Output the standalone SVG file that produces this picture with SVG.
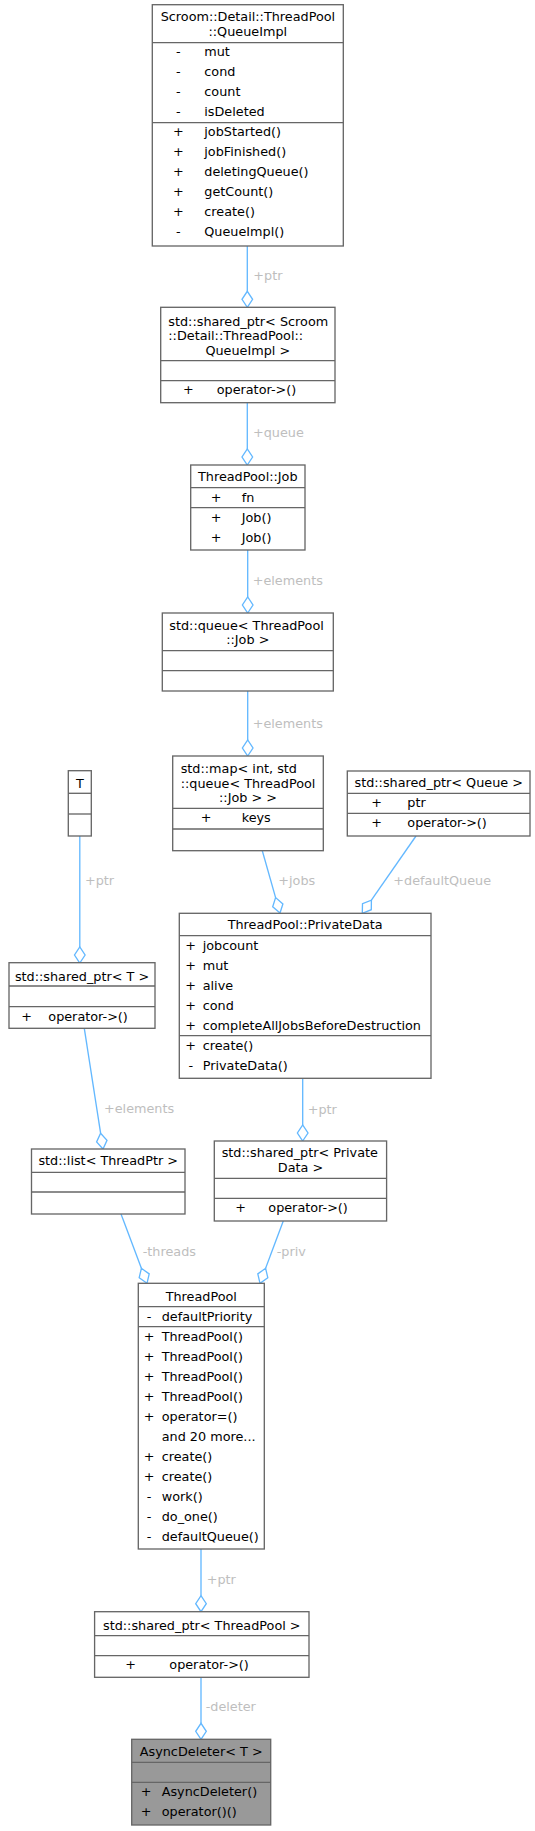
<svg xmlns="http://www.w3.org/2000/svg" width="535" height="1831" viewBox="0 0 535 1831">
<style>
text{font-family:"DejaVu Sans","Liberation Sans",sans-serif;font-size:12.8px;fill:#000}
.m{text-anchor:middle}
.box{fill:#fff;stroke:#666;stroke-width:1.33}
.sep{stroke:#666;stroke-width:1.33}
.gray{fill:#999;stroke:#666;stroke-width:1.33}
.e{stroke:#63b8ff;stroke-width:1.33;fill:none}
.d{stroke:#63b8ff;stroke-width:1.33;fill:#fff}
.lbl{fill:#bebebe}
</style>
<rect width="535" height="1831" fill="#fff"/>

<g id="edges">
<line class="e" x1="247.3" y1="246" x2="247.3" y2="291.3"/>
<polygon class="d" points="247.3,307.3 252.6,299.3 247.3,291.3 242,299.3"/>
<text class="lbl" x="253.3" y="280">+ptr</text>

<line class="e" x1="247.3" y1="402.7" x2="247.3" y2="449"/>
<polygon class="d" points="247.3,465 252.6,457 247.3,449 242,457"/>
<text class="lbl" x="253" y="437">+queue</text>

<line class="e" x1="247.7" y1="550" x2="247.7" y2="597"/>
<polygon class="d" points="247.7,613 253,605 247.7,597 242.4,605"/>
<text class="lbl" x="252.7" y="585">+elements</text>

<line class="e" x1="247.7" y1="691" x2="247.7" y2="740"/>
<polygon class="d" points="247.7,756 253,748 247.7,740 242.4,748"/>
<text class="lbl" x="252.7" y="728">+elements</text>

<line class="e" x1="262.3" y1="850.7" x2="275.6" y2="897.6"/>
<polygon class="d" points="280,913 272.7,906.7 275.6,897.6 282.9,903.9"/>
<text class="lbl" x="278.3" y="885">+jobs</text>

<line class="e" x1="416" y1="836" x2="371.4" y2="900.2"/>
<polygon class="d" points="362.3,913.3 362.5,903.7 371.4,900.2 371.3,909.7"/>
<text class="lbl" x="393.3" y="885">+defaultQueue</text>

<line class="e" x1="79.8" y1="836" x2="79.8" y2="947"/>
<polygon class="d" points="79.8,963 85.1,955 79.8,947 74.5,955"/>
<text class="lbl" x="85" y="885">+ptr</text>

<line class="e" x1="302.7" y1="1078.3" x2="302.7" y2="1125"/>
<polygon class="d" points="302.7,1141 308,1133 302.7,1125 297.4,1133"/>
<text class="lbl" x="307.7" y="1113.5">+ptr</text>

<line class="e" x1="84.3" y1="1028.3" x2="100.6" y2="1133.2"/>
<polygon class="d" points="103,1149 96.6,1141.9 100.6,1133.2 107,1140.3"/>
<text class="lbl" x="104" y="1113">+elements</text>

<line class="e" x1="121" y1="1214" x2="141.4" y2="1268.3"/>
<polygon class="d" points="147,1283.3 139.2,1277.7 141.4,1268.3 149.2,1273.9"/>
<text class="lbl" x="142.7" y="1256">-threads</text>

<line class="e" x1="283.3" y1="1221" x2="265.6" y2="1268.3"/>
<polygon class="d" points="260,1283.3 257.8,1273.9 265.6,1268.3 267.8,1277.7"/>
<text class="lbl" x="276.7" y="1256">-priv</text>

<line class="e" x1="201" y1="1549" x2="201" y2="1595.7"/>
<polygon class="d" points="201,1611.7 206.3,1603.7 201,1595.7 195.7,1603.7"/>
<text class="lbl" x="206.7" y="1584">+ptr</text>

<line class="e" x1="201" y1="1677.3" x2="201" y2="1723.3"/>
<polygon class="d" points="201,1739.3 206.3,1731.3 201,1723.3 195.7,1731.3"/>
<text class="lbl" x="205.7" y="1711">-deleter</text>
</g>

<g id="QueueImpl">
<rect class="box" x="152.3" y="4.7" width="191" height="241.3"/>
<text x="160.7" y="21">Scroom::Detail::ThreadPool</text>
<text class="m" x="247.8" y="36">::QueueImpl</text>
<line class="sep" x1="152.3" y1="42.7" x2="343.3" y2="42.7"/>
<text class="m" x="178.3" y="56">-</text><text x="204.3" y="56">mut</text>
<text class="m" x="178.3" y="76">-</text><text x="204.3" y="76">cond</text>
<text class="m" x="178.3" y="96">-</text><text x="204.3" y="96">count</text>
<text class="m" x="178.3" y="116">-</text><text x="204.3" y="116">isDeleted</text>
<line class="sep" x1="152.3" y1="122.7" x2="343.3" y2="122.7"/>
<text class="m" x="178.3" y="136">+</text><text x="204.3" y="136">jobStarted()</text>
<text class="m" x="178.3" y="156">+</text><text x="204.3" y="156">jobFinished()</text>
<text class="m" x="178.3" y="176">+</text><text x="204.3" y="176">deletingQueue()</text>
<text class="m" x="178.3" y="196">+</text><text x="204.3" y="196">getCount()</text>
<text class="m" x="178.3" y="216">+</text><text x="204.3" y="216">create()</text>
<text class="m" x="178.3" y="236">-</text><text x="204.3" y="236">QueueImpl()</text>
</g>

<g id="SharedPtrQueueImpl">
<rect class="box" x="160.7" y="307.3" width="174.3" height="95.4"/>
<text x="168.3" y="325.5">std::shared_ptr&lt; Scroom</text>
<text x="168.3" y="340">::Detail::ThreadPool::</text>
<text class="m" x="247.8" y="354.5">QueueImpl &gt;</text>
<line class="sep" x1="160.7" y1="360.7" x2="335" y2="360.7"/>
<line class="sep" x1="160.7" y1="380.7" x2="335" y2="380.7"/>
<text class="m" x="188.3" y="394">+</text><text x="216.7" y="394">operator-&gt;()</text>
</g>

<g id="Job">
<rect class="box" x="190.7" y="465" width="114.3" height="85"/>
<text class="m" x="247.8" y="481">ThreadPool::Job</text>
<line class="sep" x1="190.7" y1="487.7" x2="305" y2="487.7"/>
<text class="m" x="216" y="501.5">+</text><text x="241.7" y="501.5">fn</text>
<line class="sep" x1="190.7" y1="507.7" x2="305" y2="507.7"/>
<text class="m" x="216" y="521.5">+</text><text x="241.7" y="521.5">Job()</text>
<text class="m" x="216" y="541.5">+</text><text x="241.7" y="541.5">Job()</text>
</g>

<g id="QueueJob">
<rect class="box" x="162.3" y="613" width="171" height="78"/>
<text x="169.3" y="629.5">std::queue&lt; ThreadPool</text>
<text class="m" x="247.8" y="644">::Job &gt;</text>
<line class="sep" x1="162.3" y1="650.7" x2="333.3" y2="650.7"/>
<line class="sep" x1="162.3" y1="670.7" x2="333.3" y2="670.7"/>
</g>

<g id="MapJobs">
<rect class="box" x="172.7" y="756" width="150.6" height="94.7"/>
<text x="180.7" y="773">std::map&lt; int, std</text>
<text x="180.7" y="787.5">::queue&lt; ThreadPool</text>
<text class="m" x="248" y="802">::Job &gt; &gt;</text>
<line class="sep" x1="172.7" y1="808.3" x2="323.3" y2="808.3"/>
<text class="m" x="206" y="822">+</text><text x="241.7" y="822">keys</text>
<line class="sep" x1="172.7" y1="829" x2="323.3" y2="829"/>
</g>

<g id="SharedPtrQueue">
<rect class="box" x="347.3" y="771" width="182.7" height="65"/>
<text class="m" x="438.7" y="787">std::shared_ptr&lt; Queue &gt;</text>
<line class="sep" x1="347.3" y1="793.3" x2="530" y2="793.3"/>
<text class="m" x="376.7" y="807">+</text><text x="407.3" y="807">ptr</text>
<line class="sep" x1="347.3" y1="813.3" x2="530" y2="813.3"/>
<text class="m" x="376.7" y="827">+</text><text x="407.3" y="827">operator-&gt;()</text>
</g>

<g id="T">
<rect class="box" x="68.3" y="770.7" width="23" height="65.3"/>
<text class="m" x="79.8" y="787.5">T</text>
<line class="sep" x1="68.3" y1="793.3" x2="91.3" y2="793.3"/>
<line class="sep" x1="68.3" y1="814" x2="91.3" y2="814"/>
</g>

<g id="PrivateData">
<rect class="box" x="179.3" y="913.3" width="251.7" height="165"/>
<text class="m" x="305.2" y="929">ThreadPool::PrivateData</text>
<line class="sep" x1="179.3" y1="935.7" x2="431" y2="935.7"/>
<text class="m" x="190.7" y="949.5">+</text><text x="202.7" y="949.5">jobcount</text>
<text class="m" x="190.7" y="969.5">+</text><text x="202.7" y="969.5">mut</text>
<text class="m" x="190.7" y="989.5">+</text><text x="202.7" y="989.5">alive</text>
<text class="m" x="190.7" y="1009.5">+</text><text x="202.7" y="1009.5">cond</text>
<text class="m" x="190.7" y="1029.5">+</text><text x="202.7" y="1029.5">completeAllJobsBeforeDestruction</text>
<line class="sep" x1="179.3" y1="1035.7" x2="431" y2="1035.7"/>
<text class="m" x="190.7" y="1049.5">+</text><text x="202.7" y="1049.5">create()</text>
<text class="m" x="190.7" y="1069.5">-</text><text x="202.7" y="1069.5">PrivateData()</text>
</g>

<g id="SharedPtrT">
<rect class="box" x="9" y="962.7" width="146" height="65.6"/>
<text class="m" x="82" y="980.5">std::shared_ptr&lt; T &gt;</text>
<line class="sep" x1="9" y1="986" x2="155" y2="986"/>
<line class="sep" x1="9" y1="1006.7" x2="155" y2="1006.7"/>
<text class="m" x="26.7" y="1020.5">+</text><text x="48.3" y="1020.5">operator-&gt;()</text>
</g>

<g id="SharedPtrPrivateData">
<rect class="box" x="214.3" y="1141" width="172.3" height="80"/>
<text x="221.7" y="1157">std::shared_ptr&lt; Private</text>
<text class="m" x="300.5" y="1171.5">Data &gt;</text>
<line class="sep" x1="214.3" y1="1178.3" x2="386.6" y2="1178.3"/>
<line class="sep" x1="214.3" y1="1198.3" x2="386.6" y2="1198.3"/>
<text class="m" x="240.7" y="1212">+</text><text x="268.3" y="1212">operator-&gt;()</text>
</g>

<g id="ListThreadPtr">
<rect class="box" x="31.5" y="1149" width="153.5" height="65"/>
<text class="m" x="108.2" y="1165">std::list&lt; ThreadPtr &gt;</text>
<line class="sep" x1="31.5" y1="1172.3" x2="185" y2="1172.3"/>
<line class="sep" x1="31.5" y1="1192" x2="185" y2="1192"/>
</g>

<g id="ThreadPool">
<rect class="box" x="138.3" y="1283.3" width="126" height="265.7"/>
<text class="m" x="201.3" y="1300.5">ThreadPool</text>
<line class="sep" x1="138.3" y1="1306.7" x2="264.3" y2="1306.7"/>
<text class="m" x="149" y="1320.5">-</text><text x="161.7" y="1320.5">defaultPriority</text>
<line class="sep" x1="138.3" y1="1326.7" x2="264.3" y2="1326.7"/>
<text class="m" x="149" y="1340.5">+</text><text x="161.7" y="1340.5">ThreadPool()</text>
<text class="m" x="149" y="1360.5">+</text><text x="161.7" y="1360.5">ThreadPool()</text>
<text class="m" x="149" y="1380.5">+</text><text x="161.7" y="1380.5">ThreadPool()</text>
<text class="m" x="149" y="1400.5">+</text><text x="161.7" y="1400.5">ThreadPool()</text>
<text class="m" x="149" y="1420.5">+</text><text x="161.7" y="1420.5">operator=()</text>
<text x="161.7" y="1440.5">and 20 more...</text>
<text class="m" x="149" y="1460.5">+</text><text x="161.7" y="1460.5">create()</text>
<text class="m" x="149" y="1480.5">+</text><text x="161.7" y="1480.5">create()</text>
<text class="m" x="149" y="1500.5">-</text><text x="161.7" y="1500.5">work()</text>
<text class="m" x="149" y="1520.5">-</text><text x="161.7" y="1520.5">do_one()</text>
<text class="m" x="149" y="1540.5">-</text><text x="161.7" y="1540.5">defaultQueue()</text>
</g>

<g id="SharedPtrThreadPool">
<rect class="box" x="94.6" y="1611.7" width="214.4" height="65.6"/>
<text class="m" x="201.8" y="1629.5">std::shared_ptr&lt; ThreadPool &gt;</text>
<line class="sep" x1="94.6" y1="1635.7" x2="309" y2="1635.7"/>
<line class="sep" x1="94.6" y1="1655.7" x2="309" y2="1655.7"/>
<text class="m" x="130.7" y="1668.5">+</text><text x="169.3" y="1668.5">operator-&gt;()</text>
</g>

<g id="AsyncDeleter">
<rect class="gray" x="131.7" y="1739.3" width="139" height="85.7"/>
<text class="m" x="201.2" y="1756">AsyncDeleter&lt; T &gt;</text>
<line class="sep" x1="131.7" y1="1762.3" x2="270.7" y2="1762.3"/>
<line class="sep" x1="131.7" y1="1782.3" x2="270.7" y2="1782.3"/>
<text class="m" x="146" y="1795.5">+</text><text x="161.7" y="1795.5">AsyncDeleter()</text>
<text class="m" x="146" y="1815.5">+</text><text x="161.7" y="1815.5">operator()()</text>
</g>
</svg>
